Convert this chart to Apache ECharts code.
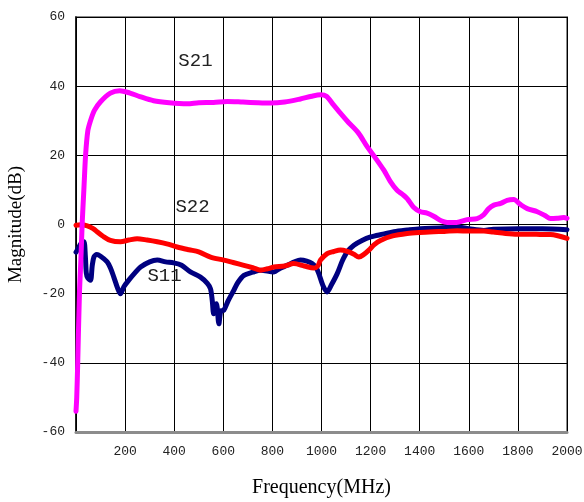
<!DOCTYPE html>
<html>
<head>
<meta charset="utf-8">
<script src="https://cdn.jsdelivr.net/npm/echarts@6/dist/echarts.min.js"></script>
<style>html,body{margin:0;padding:0;background:#fff}#c{width:584px;height:502px}</style>
</head>
<body>
<div id="c"></div>
<script>
const xTicks = [0,200,400,600,800,1000,1200,1400,1600,1800,2000];
const yTicks = [-60,-40,-20,0,20,40,60];

const s21 = [[0,-54],[3,-50],[7,-40],[14,-20],[20,-10],[25,0],[32,10],[39,20],[48,27],[59,30],[75,33],[100,35.5],[140,38],[178,38.7],[220,38],[260,37],[316,35.8],[380,35.2],[453,34.9],[500,35.2],[560,35.3],[616,35.6],[680,35.4],[740,35.2],[792,35.1],[850,35.4],[914,36.3],[960,37.1],[996,37.5],[1020,37.1],[1050,34.5],[1077,32.2],[1110,29.5],[1150,26.5],[1186,22.5],[1220,19.2],[1254,15.7],[1280,12.5],[1308,9.9],[1330,8.7],[1349,7.5],[1375,5],[1403,3.7],[1430,3.3],[1457,2.4],[1490,1],[1512,0.6],[1550,0.6],[1593,1.4],[1634,1.7],[1660,2.8],[1680,4.5],[1702,5.6],[1730,6.1],[1756,7],[1783,7.2],[1810,5.8],[1838,4.6],[1879,3.7],[1910,2.6],[1933,1.7],[1960,1.8],[1987,2.0],[2000,1.8]];

const s22 = [[0,-0.2],[20,-0.1],[46,-0.4],[70,-1.2],[86,-2.1],[110,-3.4],[140,-4.6],[181,-5],[215,-4.5],[249,-4.1],[290,-4.5],[331,-5],[370,-5.6],[412,-6.5],[460,-7.3],[500,-7.9],[548,-9.4],[602,-10.3],[640,-11],[684,-11.8],[720,-12.5],[752,-13.2],[780,-12.8],[806,-12.3],[850,-12],[887,-11.3],[930,-12],[969,-12.6],[985,-12],[996,-10.3],[1023,-8.4],[1050,-7.8],[1077,-7.4],[1105,-7.8],[1132,-8.6],[1152,-9.4],[1170,-8.8],[1193,-7.4],[1215,-5.8],[1240,-4.6],[1290,-3.3],[1349,-2.6],[1400,-2.3],[1457,-2.1],[1500,-2],[1553,-1.8],[1600,-1.9],[1661,-1.9],[1700,-2.2],[1750,-2.6],[1797,-2.8],[1850,-2.8],[1900,-2.9],[1933,-2.9],[1970,-3.4],[2000,-4]];

const s11 = [[0,-8],[10,-6.8],[20,-5.5],[32,-5],[38,-9],[42,-14],[48,-15.5],[59,-16.1],[66,-12],[73,-9.4],[85,-8.7],[100,-9.2],[127,-10.8],[140,-12.5],[154,-15.2],[170,-18.5],[181,-20],[195,-18],[215,-16.1],[240,-14],[263,-12.3],[300,-10.8],[331,-10.3],[365,-10.8],[398,-11.1],[430,-11.8],[466,-13.7],[507,-15.2],[535,-17],[548,-18.6],[555,-22],[561,-25.8],[572,-22.9],[582,-28.7],[590,-25],[602,-24.8],[620,-22],[643,-19],[660,-16.7],[684,-14.7],[720,-13.8],[752,-13.2],[806,-13.7],[830,-12.7],[860,-11.8],[890,-10.8],[914,-10.3],[940,-10.6],[962,-11.3],[978,-12.5],[989,-14.2],[1005,-17.5],[1023,-19.5],[1040,-17.5],[1064,-14.2],[1085,-10.5],[1105,-7.9],[1132,-6],[1165,-4.6],[1200,-3.6],[1250,-2.8],[1295,-2.1],[1350,-1.6],[1403,-1.2],[1480,-1],[1553,-0.7],[1600,-1.2],[1661,-1.7],[1700,-1.4],[1797,-1.2],[1900,-1.2],[2000,-1.5]];

const labels = [
  {name:'S21', at:[417,47]},
  {name:'S22', at:[405,5]},
  {name:'S11', at:[291,-15]}
];

const chart = echarts.init(document.getElementById('c'), null, {renderer:'canvas'});
const mono = '"Liberation Mono", "DejaVu Sans Mono", monospace';
const serif = '"Liberation Serif", "DejaVu Serif", serif';

function lineSeries(name, data, color){
  return {
    name, type:'line', data, showSymbol:false, symbol:'none', smooth:0.3,
    lineStyle:{color, width:5, cap:'round', join:'round'}, animation:false
  };
}

chart.setOption({
  animation:false,
  grid:{left:76, right:17, top:17, bottom:70, containLabel:false, outerBoundsMode:'none',
    show:true, borderColor:'#8c8c8c', borderWidth:2, backgroundColor:'transparent'},
  xAxis:{
    type:'value', min:xTicks[0], max:xTicks[xTicks.length-1], interval:200,
    name:'Frequency(MHz)', nameLocation:'middle', nameGap:46,
    nameTextStyle:{fontFamily:serif, fontSize:20, color:'#000'},
    axisLine:{show:true, onZero:false, lineStyle:{color:'#8c8c8c', width:3}},
    axisTick:{show:false},
    axisLabel:{fontFamily:mono, fontSize:13, color:'#222', margin:13,
      formatter:v => v===0 ? '' : String(v)},
    splitLine:{show:true, lineStyle:{color:'#000', width:1}}
  },
  yAxis:{
    type:'value', min:yTicks[0], max:yTicks[yTicks.length-1], interval:20,
    name:'Magnitude(dB)', nameLocation:'middle', nameGap:50,
    nameTextStyle:{fontFamily:serif, fontSize:19, color:'#000'},
    axisLine:{show:true, onZero:false, lineStyle:{color:'#000', width:1.5}},
    axisTick:{show:false},
    axisLabel:{fontFamily:mono, fontSize:13, color:'#222', margin:11},
    splitLine:{show:true, lineStyle:{color:'#000', width:1}}
  },
  series:[
    lineSeries('S11', s11, '#000080'),
    lineSeries('S22', s22, '#ff0000'),
    lineSeries('S21', s21, '#ff00ff')
  ]
});

const g = labels.map(l => {
  const p = chart.convertToPixel({gridIndex:0}, l.at);
  return {type:'text', left:p[0], top:p[1]-10, z:100,
    style:{text:l.name, font:'19px ' + mono, fill:'#222'}};
});
chart.setOption({graphic:g});
</script>
</body>
</html>
